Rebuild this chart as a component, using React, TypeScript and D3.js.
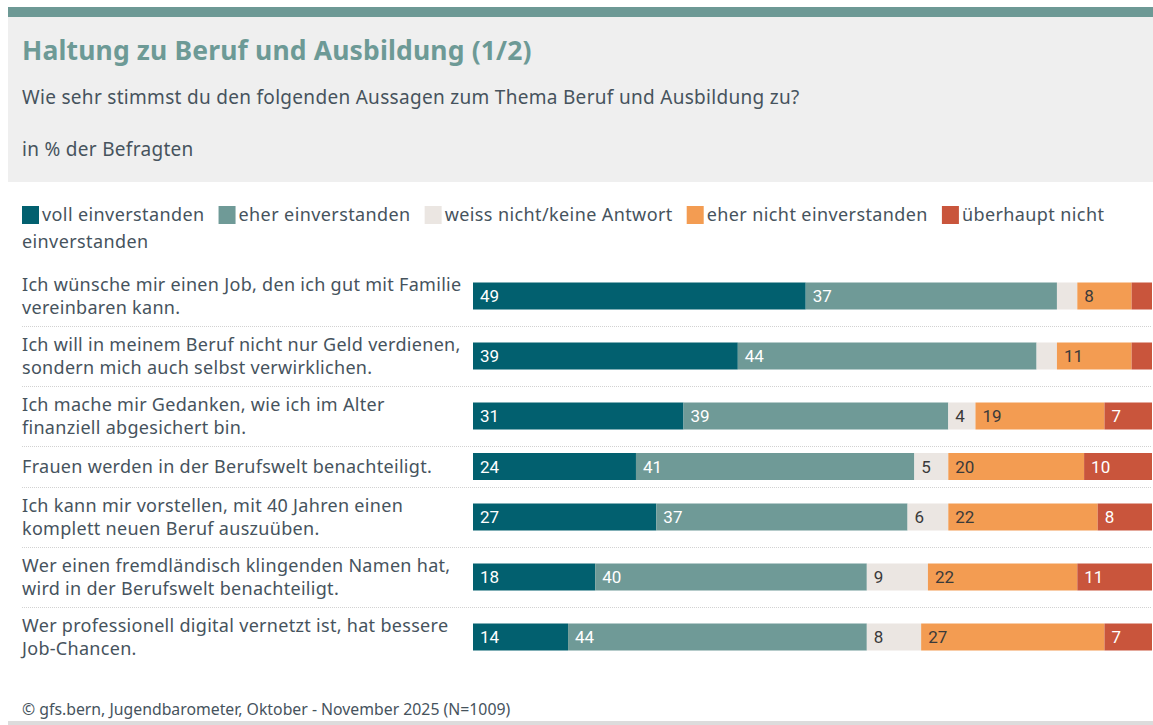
import React, { useEffect, useRef } from 'react';
import * as d3 from 'd3';

const categories: string[][] = [
	['Ich wünsche mir einen Job, den ich gut mit Familie', 'vereinbaren kann.'],
	['Ich will in meinem Beruf nicht nur Geld verdienen,', 'sondern mich auch selbst verwirklichen.'],
	['Ich mache mir Gedanken, wie ich im Alter', 'finanziell abgesichert bin.'],
	['Frauen werden in der Berufswelt benachteiligt.'],
	['Ich kann mir vorstellen, mit 40 Jahren einen', 'komplett neuen Beruf auszuüben.'],
	['Wer einen fremdländisch klingenden Namen hat,', 'wird in der Berufswelt benachteiligt.'],
	['Wer professionell digital vernetzt ist, hat bessere', 'Job-Chancen.'],
];

const seriesNames = ['voll einverstanden', 'eher einverstanden', 'weiss nicht/keine Antwort', 'eher nicht einverstanden', 'überhaupt nicht einverstanden'];
const voll = [49, 39, 31, 24, 27, 18, 14];
const eher = [37, 44, 39, 41, 37, 40, 44];
const weiss = [3, 3, 4, 5, 6, 9, 8];
const eherNicht = [8, 11, 19, 20, 22, 22, 27];
const ueberhaupt = [3, 3, 7, 10, 8, 11, 7];

const colors = ['#02606f', '#6f9a97', '#ebe6e2', '#f39c52', '#c9553c'];
const labelColors = ['#ffffff', '#ffffff', '#3a3a3a', '#3a3a3a', '#ffffff'];

const FONT = "'Noto Sans', 'Open Sans', sans-serif";
const TEXT = '#46535d';

const App: React.FC = () => {
	const svgRef = useRef<SVGSVGElement>(null);

	useEffect(() => {
		if (svgRef.current == null) return;
		const width = 1153;
		const height = 725;
		const svg = d3.select(svgRef.current)
			.attr('width', width)
			.attr('height', height);
		svg.selectAll('*').remove();

		// header
		svg.append('rect').attr('x', 8).attr('y', 17).attr('width', width - 8).attr('height', 165).attr('fill', '#efefef');
		svg.append('rect').attr('x', 8).attr('y', 7).attr('width', width - 8).attr('height', 10).attr('fill', '#6d9995');
		svg.append('text').attr('x', 22).attr('y', 60)
			.style('font-family', FONT).style('font-size', '26.5px').style('font-weight', 700)
			.style('letter-spacing', '0.15px')
			.style('fill', '#6d9a96')
			.text('Haltung zu Beruf und Ausbildung (1/2)');
		svg.append('text').attr('x', 22).attr('y', 104)
			.style('font-family', FONT).style('font-size', '19px').style('letter-spacing', '0.3px').style('fill', TEXT)
			.text('Wie sehr stimmst du den folgenden Aussagen zum Thema Beruf und Ausbildung zu?');
		svg.append('text').attr('x', 22).attr('y', 156)
			.style('font-family', FONT).style('font-size', '19px').style('letter-spacing', '0.3px').style('fill', TEXT)
			.text('in % der Befragten');

		// legend, wraps like inline text
		const legend = svg.append('g');
		const maxX = 1140;
		const legendText = (sel: any) => sel
			.style('font-family', FONT).style('font-size', '18px').style('letter-spacing', '0.4px').style('fill', TEXT);
		let lx = 22;
		let ly = 215;
		seriesNames.forEach((name, i) => {
			legend.append('rect').attr('x', lx).attr('y', ly - 9).attr('width', 17).attr('height', 18).attr('fill', colors[i]);
			lx += 20;
			const words = name.split(' ');
			let line = '';
			let t = legend.append('text').attr('x', lx).attr('y', ly).attr('dy', '0.35em').call(legendText);
			words.forEach((w) => {
				const trial = line ? line + ' ' + w : w;
				t.text(trial);
				const len = (t.node() as SVGTextElement).getComputedTextLength();
				if (lx + len > maxX && line) {
					t.text(line);
					ly += 27;
					lx = 22;
					line = w;
					t = legend.append('text').attr('x', lx).attr('y', ly).attr('dy', '0.35em').call(legendText).text(w);
				} else {
					line = trial;
				}
			});
			lx += (t.node() as SVGTextElement).getComputedTextLength() + 14;
		});

		// rows
		const x = d3.scaleLinear().domain([0, 100]).range([473, 1152]);
		const lineH = 23;
		const barH = 27;
		const rowHeights = categories.map((c) => Math.max(barH, c.length * lineH) + 14);
		const rowTops: number[] = [];
		rowHeights.reduce((acc, h) => { rowTops.push(acc); return acc + h; }, 266);

		const rows = categories.map((c, i) => ({
			idx: i,
			values: [voll[i], eher[i], weiss[i], eherNicht[i], ueberhaupt[i]],
		}));

		rows.forEach((r, i) => {
			const cy = rowTops[i] + rowHeights[i] / 2;
			const g = svg.append('g');
			if (i > 0) {
				g.append('line').attr('x1', 22).attr('x2', 1152)
					.attr('y1', rowTops[i] + 0.5).attr('y2', rowTops[i] + 0.5)
					.attr('stroke', '#d2d2d2').attr('stroke-dasharray', '1,1');
			}
			const lines = categories[i];
			lines.forEach((l, j) => {
				g.append('text').attr('x', 22)
					.attr('y', cy + (j - (lines.length - 1) / 2) * lineH)
					.attr('dy', '0.35em')
					.style('font-family', FONT).style('font-size', '18px').style('letter-spacing', '0.3px').style('fill', TEXT)
					.text(l);
			});
			let acc = 0;
			r.values.forEach((v, k) => {
				g.append('rect')
					.attr('x', x(acc)).attr('y', cy - barH / 2)
					.attr('width', x(acc + v) - x(acc)).attr('height', barH)
					.attr('fill', colors[k]);
				if (v >= 4) {
					g.append('text').attr('x', x(acc) + 7).attr('y', cy).attr('dy', '0.36em')
						.style('font-family', "'Roboto', sans-serif").style('font-size', '17px')
						.style('fill', labelColors[k])
						.text(v);
				}
				acc += v;
			});
		});

		// footer
		svg.append('text').attr('x', 22).attr('y', 709).attr('dy', '0.35em')
			.style('font-family', FONT).style('font-size', '15.8px').style('fill', TEXT)
			.text('© gfs.bern, Jugendbarometer, Oktober - November 2025 (N=1009)');
		svg.append('rect').attr('x', 8).attr('y', 721).attr('width', width - 8).attr('height', 4).attr('fill', '#dcdcdc');
	}, []);

	return <svg ref={svgRef} style={{ position: 'absolute', left: 0, top: 0, background: '#fff' }}></svg>;
};

export default App;
